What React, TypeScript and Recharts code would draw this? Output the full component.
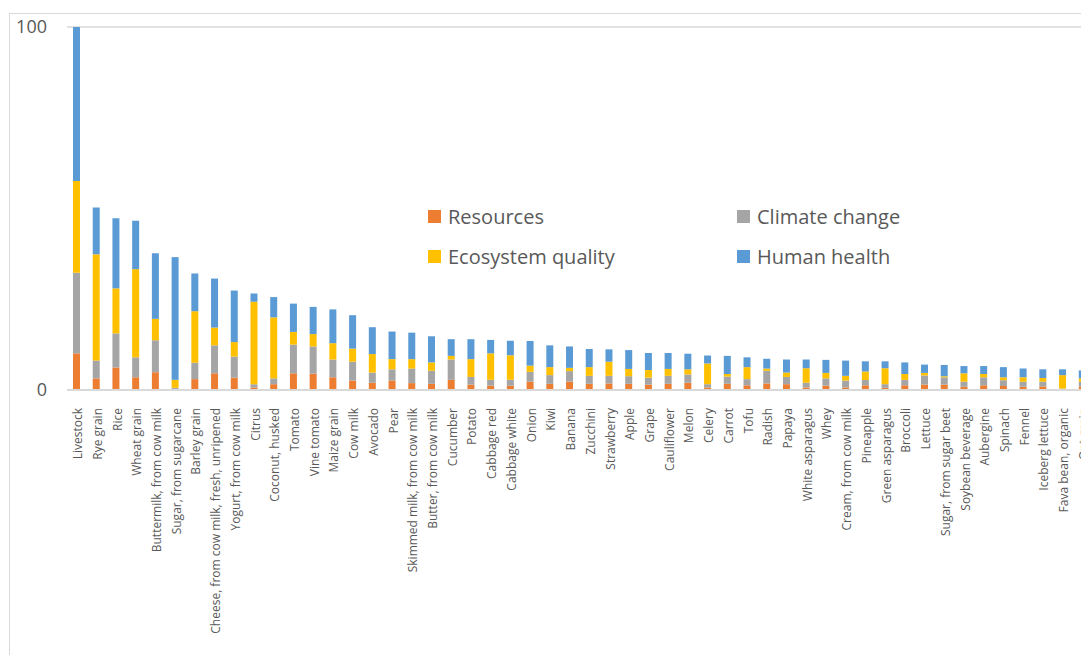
import { BarChart, Bar, XAxis, YAxis, CartesianGrid } from "recharts";

const categories = [
  "Livestock", "Rye grain", "Rice", "Wheat grain", "Buttermilk, from cow milk", "Sugar, from sugarcane",
  "Barley grain", "Cheese, from cow milk, fresh, unripened", "Yogurt, from cow milk", "Citrus",
  "Coconut, husked", "Tomato", "Vine tomato", "Maize grain", "Cow milk", "Avocado", "Pear",
  "Skimmed milk, from cow milk", "Butter, from cow milk", "Cucumber", "Potato", "Cabbage red",
  "Cabbage white", "Onion", "Kiwi", "Banana", "Zucchini", "Strawberry", "Apple", "Grape",
  "Cauliflower", "Melon", "Celery", "Carrot", "Tofu", "Radish", "Papaya", "White asparagus", "Whey",
  "Cream, from cow milk", "Pineapple", "Green asparagus", "Broccoli", "Lettuce",
  "Sugar, from sugar beet", "Soybean beverage", "Aubergine", "Spinach", "Fennel", "Iceberg lettuce",
  "Fava bean, organic", "Oat grain",
];

const resources = [
  10.1, 3.2, 6.2, 3.5, 4.9, 0.3, 3.0, 4.6, 3.4, 0.7,
  1.6, 4.6, 4.5, 3.5, 2.6, 2.0, 2.6, 1.9, 1.7, 2.8,
  1.5, 1.2, 1.2, 2.3, 1.7, 2.3, 1.7, 1.8, 1.7, 1.5,
  1.7, 2.0, 0.7, 1.7, 1.3, 1.8, 1.6, 0.7, 1.2, 0.7,
  1.3, 0.6, 1.3, 1.5, 1.5, 0.9, 1.3, 1.1, 0.9, 1.0,
  0.1, 1.0,
];

const climate = [
  22.2, 4.9, 9.4, 5.5, 8.8, 0.3, 4.5, 7.7, 5.8, 0.9,
  1.6, 7.9, 7.5, 4.9, 5.2, 2.8, 3.1, 4.0, 3.6, 5.6,
  2.1, 1.6, 1.6, 2.7, 2.4, 2.9, 2.2, 2.1, 2.1, 1.9,
  2.2, 2.3, 0.9, 2.0, 1.7, 3.5, 2.0, 1.3, 2.0, 1.9,
  1.45, 1.0, 1.5, 2.5, 2.0, 1.4, 2.2, 1.6, 1.4, 1.3,
  0.3, 1.3,
];

const ecosystem = [
  25.3, 29.3, 12.4, 24.3, 5.9, 2.2, 14.2, 4.9, 4.0, 22.7,
  16.8, 3.5, 3.4, 4.5, 3.6, 5.1, 2.8, 2.6, 2.3, 1.0,
  4.9, 7.3, 6.8, 1.7, 2.2, 0.9, 2.4, 3.9, 2.0, 2.1,
  1.9, 1.4, 5.7, 0.7, 3.3, 0.6, 1.2, 4.0, 1.5, 1.3,
  2.35, 4.4, 1.6, 0.7, 0.3, 2.3, 0.9, 0.8, 1.2, 1.0,
  3.7, 0.9,
];

const human = [
  42.4, 12.9, 19.3, 13.3, 18.1, 33.8, 10.4, 13.5, 14.2, 2.3,
  5.6, 7.8, 7.5, 9.3, 9.2, 7.4, 7.6, 7.3, 7.2, 4.6,
  5.5, 3.7, 4.0, 6.8, 6.0, 5.9, 5.0, 3.4, 5.2, 4.7,
  4.4, 4.3, 2.2, 5.0, 2.7, 2.7, 3.6, 2.4, 3.6, 4.2,
  2.8, 1.9, 3.2, 2.3, 3.1, 2.0, 2.2, 2.8, 2.4, 2.4,
  1.6, 2.2,
];

const yTicks = [0, 100];

const series = [
  { key: "resources", name: "Resources", color: "#ED7D31" },
  { key: "climate", name: "Climate change", color: "#A5A5A5" },
  { key: "ecosystem", name: "Ecosystem quality", color: "#FFC000" },
  { key: "human", name: "Human health", color: "#5B9BD5" },
];

const data = categories.map((name, i) => ({
  name,
  resources: resources[i],
  climate: climate[i],
  ecosystem: ecosystem[i],
  human: human[i],
}));

const FONT = "'Open Sans', 'Noto Sans', sans-serif";
const TEXT = "#595959";

const CategoryTick = ({ x, y, payload }: any) => (
  <text
    x={0}
    y={0}
    transform={`translate(${x + 1}, ${y + 10}) rotate(-90)`}
    textAnchor="end"
    dy="0.35em"
    fontSize={12}
    fontFamily={FONT}
    fill={TEXT}
  >
    {payload.value}
  </text>
);

// two-column legend drawn over the plot, as in the original
const LegendBox = () => (
  <div style={{ position: "absolute", left: 428, top: 201, width: 520, height: 80, fontFamily: FONT }}>
    {series.map((s, i) => (
      <div
        key={s.key}
        style={{
          position: "absolute",
          left: i % 2 === 0 ? 0 : 309,
          top: i < 2 ? 0 : 40,
          display: "flex",
          alignItems: "center",
          height: 30,
          whiteSpace: "nowrap",
        }}
      >
        <span style={{ width: 13, height: 13, background: s.color, display: "inline-block", marginRight: 7 }} />
        <span style={{ fontSize: 20, color: TEXT }}>{s.name}</span>
      </div>
    ))}
  </div>
);

const App = () => {
  return (
    <div style={{ position: "absolute", left: 0, top: 0, width: 1081, height: 655, overflow: "hidden", background: "#fff" }}>
      <div
        style={{
          position: "absolute",
          left: 9,
          top: 13,
          width: 1200,
          height: 800,
          borderTop: "1px solid #d9d9d9",
          borderLeft: "1px solid #d9d9d9",
        }}
      />
      <div style={{ position: "absolute", left: 0, top: 0 }}>
        <BarChart
          width={1100}
          height={655}
          data={data}
          margin={{ top: 27, right: 7.5, bottom: 0, left: 0 }}
          barSize={7}
        >
          <CartesianGrid horizontal vertical={false} stroke="#d9d9d9" strokeWidth={1.5} />
          <XAxis
            dataKey="name"
            interval={0}
            height={265}
            tick={<CategoryTick />}
            tickLine={false}
            axisLine={{ stroke: "#d9d9d9", strokeWidth: 2 }}
          />
          <YAxis
            width={67}
            domain={[0, 100]}
            ticks={yTicks}
            allowDataOverflow
            tickLine={false}
            axisLine={false}
            tickSize={0}
            tickMargin={20}
            tick={{ fontSize: 18, fill: TEXT, fontFamily: FONT }}
          />
          {series.map((s) => (
            <Bar key={s.key} dataKey={s.key} name={s.name} stackId="a" fill={s.color} isAnimationActive={false} />
          ))}
        </BarChart>
      </div>
      <LegendBox />
    </div>
  );
};

export default App;
